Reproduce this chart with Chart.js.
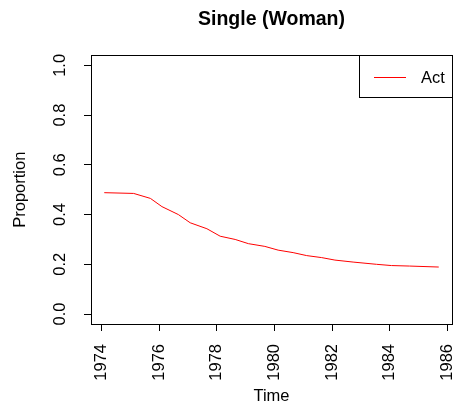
<!DOCTYPE html>
<html>
<head>
<meta charset="utf-8">
<title>Single (Woman)</title>
<script src="https://cdn.jsdelivr.net/npm/chart.js@4.4.1/dist/chart.umd.min.js"></script>
<style>
  body { margin: 0; background: #fff; }
  #chart { display: block; }
</style>
</head>
<body>
<canvas id="chart" width="459" height="411"></canvas>
<script>
let times = [1974.1, 1975.12, 1975.7, 1976.1, 1976.67, 1977.08, 1977.66, 1978.12, 1978.64, 1979.1, 1979.67,
  1980.13, 1980.65, 1981.12, 1981.64, 1982.1, 1982.73, 1983.54, 1984.06, 1984.69, 1985.7];
let actValues = [0.488, 0.485, 0.465, 0.432, 0.4, 0.367, 0.343, 0.313, 0.3, 0.283, 0.272,
  0.257, 0.247, 0.235, 0.227, 0.217, 0.209, 0.2, 0.195, 0.193, 0.189];
let xTicks = [1974, 1976, 1978, 1980, 1982, 1984, 1986];
let yTicks = [0, 0.2, 0.4, 0.6, 0.8, 1.0];

const FONT = "'Liberation Sans', Arial, Helvetica, sans-serif";

// box around the plot + R style legend in the top right corner
const boxAndLegend = {
  id: "boxAndLegend",
  afterDraw(chart) {
    const ctx = chart.ctx;
    const a = chart.chartArea;
    ctx.save();
    ctx.strokeStyle = "#000";
    ctx.lineWidth = 1;
    ctx.strokeRect(Math.round(a.left) + 0.5, Math.round(a.top) + 0.5,
      Math.round(a.right - a.left), Math.round(a.bottom - a.top));

    const ds = chart.data.datasets[0];
    const lx = Math.round(a.right) - 93;
    const ly = Math.round(a.top);
    ctx.strokeRect(lx + 0.5, ly + 0.5, Math.round(a.right) - lx, 42);
    ctx.strokeStyle = ds.borderColor;
    ctx.beginPath();
    ctx.moveTo(lx + 15, ly + 22.5);
    ctx.lineTo(lx + 47, ly + 22.5);
    ctx.stroke();
    ctx.fillStyle = "#000";
    ctx.font = "16.5px " + FONT;
    ctx.textBaseline = "alphabetic";
    ctx.textAlign = "left";
    ctx.fillText(ds.label, lx + 62, ly + 28);
    ctx.restore();
  }
};

window.addEventListener("load", function () {
  var ctx = document.getElementById("chart").getContext("2d");
  var chart = new Chart(ctx, {
    type: "line",
    data: {
      datasets: [
        {
          label: "Act",
          data: times.map((t, i) => ({ x: t, y: actValues[i] })),
          borderColor: "#ff0000",
          borderWidth: 1,
          pointRadius: 0,
          tension: 0,
          fill: false,
        },
      ],
    },
    options: {
      responsive: false,
      animation: false,
      layout: { padding: { left: 0, right: 7, top: 0, bottom: 0 } },
      scales: {
        x: {
          type: "linear",
          min: 1973.64,
          max: 1986.16,
          afterBuildTicks: (scale) => { scale.ticks = xTicks.map((v) => ({ value: v })); },
          afterFit: (scale) => {
            scale.height = 87;
            // labels stay inside the canvas anyway, don't let them shrink the plot
            scale.paddingLeft = 0;
            scale.paddingRight = 0;
          },
          ticks: {
            minRotation: 90,
            maxRotation: 90,
            autoSkip: false,
            padding: 13,
            color: "#000",
            font: { family: FONT, size: 16.5 },
            callback: (v) => String(v),
          },
          grid: { drawOnChartArea: false, drawTicks: true, tickLength: 7, color: "#000" },
          border: { display: false },
          title: {
            display: true,
            text: "Time",
            color: "#000",
            font: { family: FONT, size: 16.5 },
            padding: { top: 0, bottom: 5 },
          },
        },
        y: {
          type: "linear",
          min: -0.04,
          max: 1.04,
          afterBuildTicks: (scale) => { scale.ticks = yTicks.map((v) => ({ value: v })); },
          afterFit: (scale) => {
            scale.width = 91;
            scale.paddingTop = 0;
            scale.paddingBottom = 0;
          },
          ticks: {
            minRotation: 90,
            maxRotation: 90,
            crossAlign: "center",
            padding: 12,
            color: "#000",
            font: { family: FONT, size: 16.5 },
            callback: (v) => v.toFixed(1),
          },
          grid: { drawOnChartArea: false, drawTicks: true, tickLength: 7, color: "#000" },
          border: { display: false },
          title: {
            display: true,
            text: "Proportion",
            color: "#000",
            font: { family: FONT, size: 16.5 },
            padding: { top: 11, bottom: 0 },
          },
        },
      },
      plugins: {
        legend: { display: false },
        tooltip: { enabled: false },
        title: {
          display: true,
          text: "Single (Woman)",
          color: "#000",
          fullSize: false,
          font: { family: FONT, size: 19.5, weight: "bold" },
          padding: { top: 8, bottom: 24 },
        },
      },
    },
    plugins: [boxAndLegend],
  });
});
</script>
</body>
</html>
